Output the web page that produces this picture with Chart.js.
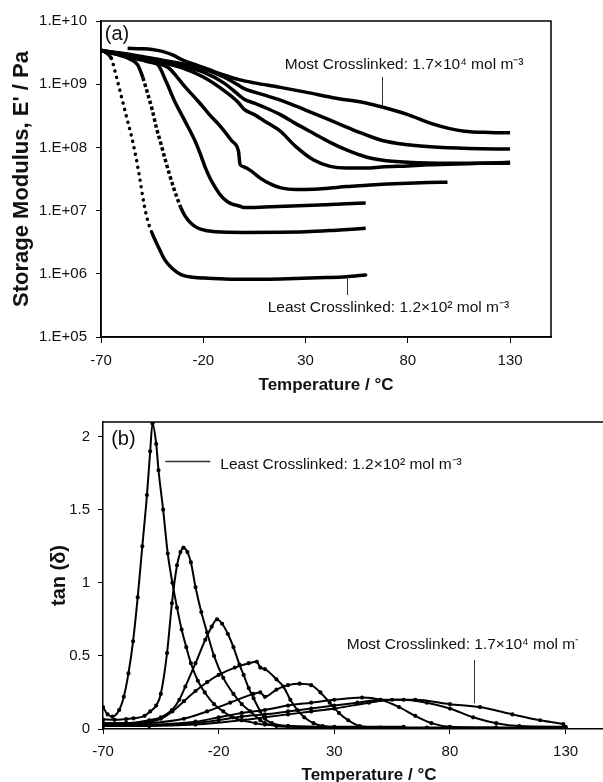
<!DOCTYPE html>
<html>
<head>
<meta charset="utf-8">
<script src="https://cdn.jsdelivr.net/npm/chart.js@4.4.1/dist/chart.umd.min.js"></script>
<style>
html,body{margin:0;padding:0;overflow:hidden;background:#fff;width:603px;height:782px;}
#wa{position:absolute;left:0;top:0;width:603px;height:396px;}
#wb{position:absolute;left:0;top:400px;width:660px;height:386px;}
</style>
</head>
<body>
<div id="wa"><canvas id="ca"></canvas></div>
<div id="wb"><canvas id="cb"></canvas></div>
<script>
// ---------- Tick values / labels ----------
const xTicks = [-70, -20, 30, 80, 130];
const xTickLabels = ['-70', '-20', '30', '80', '130'];
const yTicksA = [1e5, 1e6, 1e7, 1e8, 1e9, 1e10];
const yTickLabelsA = ['1.E+05', '1.E+06', '1.E+07', '1.E+08', '1.E+09', '1.E+10'];
const yTicksB = [0, 0.5, 1, 1.5, 2];
const yTickLabelsB = ['0', '0.5', '1', '1.5', '2'];

// ---------- (a) Storage modulus E' (Pa) vs temperature (°C) ----------
const tA1 = [-70,-67.5,-65,-62.5,-60,-57.5,-55,-53,-51,-49.5,-48,-46.5,-45,-42,-38.8,-35,-30.6,-25,-17.5,-5,10,25,40,50,59.4];
const eA1 = [3.5e9,3.16e9,2.57e9,1.32e9,6.31e8,3.02e8,1.45e8,7.24e7,3.16e7,1.58e7,8.91e6,5.89e6,4.37e6,2.69e6,1.66e6,1.2e6,9.6e5,8.8e5,8.5e5,8.2e5,8.2e5,8.4e5,8.7e5,9e5,9.6e5];
const tA2 = [-70,-65,-60,-56,-52,-49.5,-47,-45,-42.9,-40.8,-38.8,-36.5,-34.5,-33,-31,-29,-26,-22.5,-18,-14,0,30,45,59.4];
const eA2 = [3.39e9,3.16e9,2.82e9,2.51e9,2.0e9,1.26e9,6.76e8,3.98e8,2.04e8,1.17e8,6.76e7,3.72e7,2.29e7,1.66e7,1.12e7,8.32e6,6.31e6,5.25e6,4.79e6,4.62e6,4.52e6,4.62e6,4.9e6,5.25e6];
const tA3 = [-70,-60,-50,-45,-42,-38,-34,-29,-24,-21.5,-19,-16.5,-14,-11.5,-9,-6.5,-4,-2,0,10,30,45,59.4];
const eA3 = [3.39e9,2.88e9,2.4e9,2.19e9,2.0e9,1.07e9,5.37e8,2.63e8,1.26e8,7.94e7,4.79e7,3.16e7,2.29e7,1.74e7,1.45e7,1.29e7,1.22e7,1.17e7,1.12e7,1.14e7,1.2e7,1.26e7,1.32e7];
const tA4 = [-70,-60,-50,-42,-37,-33,-29,-25,-22.5,-17,-11,-6,-2.8,-2,0,3.7,8,13.5,18,25,30,40,50,60,70,80,90,99.4];
const eA4 = [3.39e9,2.88e9,2.51e9,2.14e9,1.82e9,1.32e9,9.12e8,6.61e8,5.37e8,3.31e8,2.04e8,1.26e8,8.71e7,5.37e7,4.9e7,4.17e7,3.24e7,2.57e7,2.29e7,2.16e7,2.16e7,2.24e7,2.4e7,2.51e7,2.63e7,2.72e7,2.79e7,2.82e7];
const tA5 = [-70,-60,-50,-40,-30,-20,-10,-3,0,5,10,17.7,25,34,42,50,60,67,80,90,100,115,130];
const eA5 = [3.4e9,3e9,2.6e9,2.2e9,1.8e9,1.3e9,8e8,5.2e8,4e8,3.3e8,2.6e8,1.8e8,1.05e8,6.3e7,5e7,4.7e7,4.7e7,4.9e7,5.1e7,5.3e7,5.4e7,5.6e7,5.8e7];
const tA6 = [-70,-60,-50,-40,-30,-20,-10,-2,0,5,10,17.7,25,34,42,50,60,67,80,100,115,130];
const eA6 = [3.4e9,3.05e9,2.65e9,2.3e9,1.95e9,1.55e9,1.05e9,6.5e8,5.8e8,5e8,4.3e8,3.3e8,2.4e8,1.66e8,1.2e8,9.1e7,7e7,6.3e7,5.8e7,5.6e7,5.6e7,5.6e7];
const tA7 = [-70,-60,-50,-40,-30,-20,-10,-2,0,5,10,17.7,30,42,55,67,80,91,110,130];
const eA7 = [3.4e9,3.1e9,2.75e9,2.4e9,2.1e9,1.75e9,1.3e9,9.3e8,8.5e8,7.5e8,6.7e8,5.6e8,3.9e8,2.7e8,1.8e8,1.3e8,1.1e8,1.02e8,9.6e7,9.4e7];
const tA8 = [-57,-50,-45,-40,-35,-30,-25,-20,-15,-10,-2,5,17.7,30,45,60,67,80,91.3,100,107.6,120,130];
const eA8 = [3.7e9,3.65e9,3.55e9,3.3e9,2.9e9,2.4e9,2.1e9,1.85e9,1.6e9,1.4e9,1.17e9,1.05e9,8.9e8,7.5e8,6e8,5e8,4.4e8,3.3e8,2.4e8,2e8,1.8e8,1.72e8,1.7e8];

// ---------- (b) tan(delta) vs temperature (°C) ----------
const tB1 = [-70,-68,-66,-63,-61,-59,-57,-55,-53,-51,-49.6,-48.6,-47,-46,-44,-42,-40,-38,-36,-34,-32,-29,-26,-22,-18,-14,-10,-4,0,10,30,60];
const vB1 = [0.15,0.1,0.085,0.13,0.22,0.38,0.6,0.9,1.25,1.6,1.9,2.09,1.95,1.77,1.5,1.2,1.0,0.83,0.68,0.56,0.45,0.33,0.25,0.17,0.12,0.08,0.06,0.04,0.03,0.02,0.015,0.015];
const tB2 = [-70,-65,-60,-56.8,-52,-49.6,-47,-45,-42.3,-40.2,-38,-36.5,-35.2,-33.5,-32,-30,-27.5,-25,-22,-18,-13.6,-10,-6.3,-2,0,5,10,30,60];
const vB2 = [0.065,0.063,0.068,0.073,0.09,0.12,0.16,0.24,0.52,0.86,1.12,1.21,1.24,1.21,1.14,0.97,0.8,0.66,0.5,0.35,0.24,0.17,0.12,0.06,0.04,0.02,0.015,0.01,0.01];
const tB3 = [-70,-60,-50,-45,-40.2,-37,-34.4,-30,-25.8,-23,-20.7,-18.5,-16,-13.6,-11,-9.2,-7,-4.9,-2,0,3,10,30,60];
const vB3 = [0.04,0.04,0.06,0.08,0.13,0.2,0.29,0.45,0.61,0.7,0.75,0.72,0.65,0.56,0.44,0.37,0.28,0.21,0.12,0.07,0.04,0.02,0.01,0.01];
const tB4 = [-70,-60,-50,-45,-40,-35,-30,-25,-20,-13,-7,-3.5,-2,0,5,8,11,14,17,21,25,40,70,100];
const vB4 = [0.04,0.04,0.05,0.07,0.12,0.19,0.26,0.32,0.37,0.42,0.45,0.46,0.42,0.41,0.34,0.29,0.2,0.13,0.08,0.04,0.02,0.01,0.01,0.01];
const tB5 = [-70,-50,-35,-25,-15,-5,-2,0,5,10,15,20,24,28,32,36,41,50,70,100,130];
const vB5 = [0.03,0.04,0.07,0.12,0.18,0.24,0.25,0.22,0.27,0.3,0.31,0.3,0.25,0.18,0.11,0.06,0.02,0.01,0.005,0.005,0.005];
const tB6 = [-70,-50,-30,-20,-10,0,10,20,30,42,50,58,65,72,80,100,130];
const vB6 = [0.025,0.03,0.05,0.08,0.11,0.13,0.16,0.18,0.2,0.215,0.2,0.15,0.09,0.04,0.015,0.01,0.01];
const tB7 = [-70,-50,-30,-20,-10,0,10,20,30,40,50,60,70,80,90,100,110,130];
const vB7 = [0.02,0.025,0.04,0.06,0.085,0.1,0.12,0.14,0.16,0.18,0.2,0.2,0.18,0.14,0.08,0.04,0.02,0.015];
const tB8 = [-70,-50,-30,-10,0,10,20,30,45,55,65,80,93,107,119,129];
const vB8 = [0.02,0.02,0.03,0.06,0.08,0.1,0.12,0.14,0.18,0.2,0.2,0.17,0.15,0.1,0.06,0.034];

// ---------- Texts ----------
const panelA = '(a)';
const panelB = '(b)';
const mostText = 'Most Crosslinked: 1.7\u00d710\u2074 mol m\u207b\u00b3';
const leastText = 'Least Crosslinked: 1.2\u00d710\u00b2 mol m\u207b\u00b3';
const xTitle = 'Temperature / \u00b0C';
const yTitleA = "Storage Modulus, E' / Pa";
const yTitleB = 'tan (\u03b4)';

// label anchors (data space)
const panelAPos = [-62.2, 6.2e9];
const mostAPos = [78.2, 2.0e9];
const mostALeader = [67.6, 1.3e9, 4.4e8];
const leastAPos = [70.5, 2.9e5];
const leastALeader = [50.4, 9e5, 4.6e5];
const panelBPos = [-61.2, 1.978];
const leastBPos = [-19.3, 1.81];
const leastBLeader = [-43.1, -23.6, 1.834];
const mostBPos = [35.4, 0.575];
const mostBLeader = [90.2, 0.472, 0.176];

// ---------- Rendering ----------
const FONT = '"Liberation Sans", Arial, sans-serif';
Chart.defaults.font.family = FONT;
Chart.defaults.color = '#111';

function pts(xs, ys) { return xs.map((x, i) => ({x: x, y: ys[i]})); }
function ds(xs, ys, w, pr, dash, cap) {
  const d = {data: pts(xs, ys), borderColor: '#000', backgroundColor: '#000', borderWidth: w,
          pointRadius: pr, pointHoverRadius: 0, cubicInterpolationMode: 'monotone', fill: false};
  if (cap) d.borderCapStyle = cap;
  if (dash) {
    // steep stretches of the fastest-sampled curves appear as separate markers
    d.segment = {borderDash: c => {
      const dx = Math.abs(c.p1.x - c.p0.x), dy = Math.abs(c.p1.y - c.p0.y);
      return dy > 2.5 * dx ? dash : undefined;
    }};
  }
  return d;
}

const seriesA = [[tA1,eA1,[0.1,6.5],'round'],[tA2,eA2,[3.5,2.5]],[tA3,eA3],[tA4,eA4],[tA5,eA5],[tA6,eA6],[tA7,eA7],[tA8,eA8]];
const seriesB = [[tB1,vB1],[tB2,vB2],[tB3,vB3],[tB4,vB4],[tB5,vB5],[tB6,vB6],[tB7,vB7],[tB8,vB8]];

const annotA = {
  id: 'annotA',
  afterDraw(chart) {
    const {ctx, chartArea: ca} = chart;
    const x = chart.scales.x, y = chart.scales.y;
    ctx.save();
    ctx.strokeStyle = '#000'; ctx.lineWidth = 1.5;
    ctx.strokeRect(ca.left, ca.top, ca.right - ca.left, ca.bottom - ca.top);
    ctx.fillStyle = '#111';
    ctx.textBaseline = 'middle';
    ctx.textAlign = 'center';
    ctx.font = '20px ' + FONT;
    ctx.fillText(panelA, x.getPixelForValue(panelAPos[0]), y.getPixelForValue(panelAPos[1]));
    ctx.font = '15.5px ' + FONT;
    ctx.fillText(mostText, x.getPixelForValue(mostAPos[0]), y.getPixelForValue(mostAPos[1]));
    ctx.fillText(leastText, x.getPixelForValue(leastAPos[0]), y.getPixelForValue(leastAPos[1]));
    ctx.strokeStyle = '#333'; ctx.lineWidth = 1;
    ctx.beginPath();
    let lx = Math.round(x.getPixelForValue(mostALeader[0])) + 0.5;
    ctx.moveTo(lx, y.getPixelForValue(mostALeader[1]));
    ctx.lineTo(lx, y.getPixelForValue(mostALeader[2]));
    lx = Math.round(x.getPixelForValue(leastALeader[0])) + 0.5;
    ctx.moveTo(lx, y.getPixelForValue(leastALeader[1]));
    ctx.lineTo(lx, y.getPixelForValue(leastALeader[2]));
    ctx.stroke();
    ctx.restore();
  }
};

const annotB = {
  id: 'annotB',
  afterDraw(chart) {
    const {ctx, chartArea: ca} = chart;
    const x = chart.scales.x, y = chart.scales.y;
    ctx.save();
    ctx.strokeStyle = '#000'; ctx.lineWidth = 1.5;
    ctx.beginPath();
    ctx.moveTo(ca.left, ca.top); ctx.lineTo(ca.right, ca.top);
    ctx.stroke();
    ctx.fillStyle = '#111';
    ctx.textBaseline = 'middle';
    ctx.textAlign = 'center';
    ctx.font = '20px ' + FONT;
    ctx.fillText(panelB, x.getPixelForValue(panelBPos[0]), y.getPixelForValue(panelBPos[1]));
    ctx.textAlign = 'left';
    ctx.font = '15.5px ' + FONT;
    ctx.fillText(leastText, x.getPixelForValue(leastBPos[0]), y.getPixelForValue(leastBPos[1]));
    ctx.save();
    ctx.beginPath();
    ctx.rect(0, 0, 578, chart.height);
    ctx.clip();
    ctx.fillText(mostText, x.getPixelForValue(mostBPos[0]), y.getPixelForValue(mostBPos[1]));
    ctx.restore();
    ctx.strokeStyle = '#333'; ctx.lineWidth = 1.5;
    ctx.beginPath();
    const ly = Math.round(y.getPixelForValue(leastBLeader[2])) + 0.5;
    ctx.moveTo(x.getPixelForValue(leastBLeader[0]), ly);
    ctx.lineTo(x.getPixelForValue(leastBLeader[1]), ly);
    ctx.stroke();
    ctx.lineWidth = 1;
    ctx.beginPath();
    const lx = Math.round(x.getPixelForValue(mostBLeader[0])) + 0.5;
    ctx.moveTo(lx, y.getPixelForValue(mostBLeader[1]));
    ctx.lineTo(lx, y.getPixelForValue(mostBLeader[2]));
    ctx.stroke();
    ctx.restore();
  }
};

const tickFont = {size: 15, family: FONT};
const xTitleCfg = {display: true, text: xTitle, font: {size: 17, weight: 'bold', family: FONT}, color: '#111', padding: 0};

new Chart(document.getElementById('ca'), {
  type: 'line',
  data: {datasets: seriesA.map(s => ds(s[0], s[1], 3.5, 0, s[2], s[3]))},
  options: {
    responsive: true, maintainAspectRatio: false, animation: false, devicePixelRatio: 1,
    layout: {padding: {left: 0, right: 52, top: 21, bottom: 0}},
    plugins: {legend: {display: false}, tooltip: {enabled: false}},
    scales: {
      x: {
        type: 'linear', min: -70, max: 150,
        afterBuildTicks: s => { s.ticks = xTicks.map(v => ({value: v})); },
        afterFit: s => { s.height = 59; },
        ticks: {font: tickFont, color: '#111', padding: 9, maxRotation: 0, autoSkip: false,
                callback: v => xTickLabels[xTicks.indexOf(v)]},
        grid: {display: true, drawOnChartArea: false, drawTicks: true, tickLength: 6, color: '#000', lineWidth: 1},
        border: {display: true, color: '#000', width: 1.5},
        title: xTitleCfg
      },
      y: {
        type: 'logarithmic', min: 1e5, max: 1e10,
        afterBuildTicks: s => { s.ticks = yTicksA.map(v => ({value: v})); },
        afterFit: s => { s.width = 101; },
        ticks: {font: tickFont, color: '#111', padding: 9, autoSkip: false,
                callback: v => yTickLabelsA[yTicksA.indexOf(v)]},
        grid: {display: true, drawOnChartArea: false, drawTicks: true, tickLength: 5, color: '#000', lineWidth: 1},
        border: {display: true, color: '#000', width: 1.5},
        title: {display: true, text: yTitleA, font: {size: 22, weight: 'bold', family: FONT}, color: '#111', padding: {top: 9, bottom: 0}}
      }
    }
  },
  plugins: [annotA]
});

new Chart(document.getElementById('cb'), {
  type: 'line',
  data: {datasets: seriesB.map(s => ds(s[0], s[1], 2, 1.1))},
  options: {
    responsive: true, maintainAspectRatio: false, animation: false, devicePixelRatio: 1,
    layout: {padding: {left: 0, right: 25, top: 22, bottom: 0}},
    plugins: {legend: {display: false}, tooltip: {enabled: false}},
    scales: {
      x: {
        type: 'linear', min: -70, max: 160,
        afterBuildTicks: s => { s.ticks = xTicks.map(v => ({value: v})); },
        afterFit: s => { s.height = 57; },
        ticks: {font: tickFont, color: '#111', padding: 9, maxRotation: 0, autoSkip: false,
                callback: v => xTickLabels[xTicks.indexOf(v)]},
        grid: {display: true, drawOnChartArea: false, drawTicks: true, tickLength: 5, color: '#000', lineWidth: 1},
        border: {display: true, color: '#000', width: 1.5},
        title: xTitleCfg
      },
      y: {
        type: 'linear', min: 0, max: 2.1,
        afterBuildTicks: s => { s.ticks = yTicksB.map(v => ({value: v})); },
        afterFit: s => { s.width = 103; },
        ticks: {font: tickFont, color: '#111', padding: 8, autoSkip: false,
                callback: v => yTickLabelsB[yTicksB.indexOf(v)]},
        grid: {display: true, drawOnChartArea: false, drawTicks: true, tickLength: 5, color: '#000', lineWidth: 1},
        border: {display: true, color: '#000', width: 1.5},
        title: {display: true, text: yTitleB, font: {size: 20, weight: 'bold', family: FONT}, color: '#111', padding: {top: 47, bottom: 0}}
      }
    }
  },
  plugins: [annotB]
});
</script>
</body>
</html>
